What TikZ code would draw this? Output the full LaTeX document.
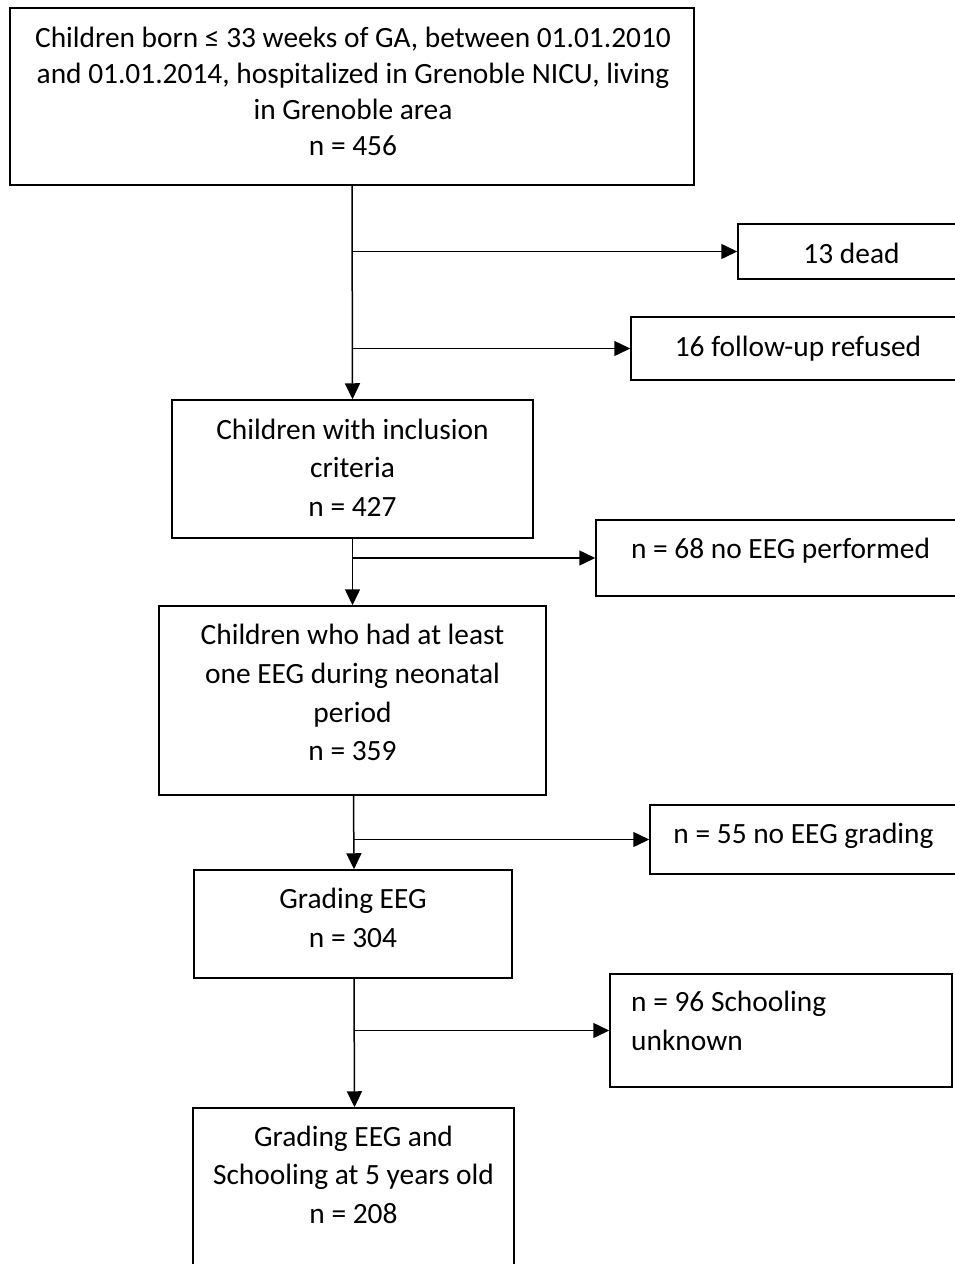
\documentclass[tikz,border=0pt]{standalone}
\usepackage{fontspec}
\setmainfont{Carlito}
\usetikzlibrary{arrows.meta}
\begin{document}
\begin{tikzpicture}[x=1pt,y=-1pt,
  box/.style={draw=black, line width=1.5pt, fill=white, rectangle, inner sep=0pt},
  txt/.style={inner sep=0pt, align=center, font=\fontsize{29.4}{38.7}\selectfont},
  arr/.style={draw=black, line width=1.5pt, -{Triangle[length=16pt,width=15pt]}}]
\useasboundingbox (0,0) rectangle (955,1264);
\clip (0,0) rectangle (955,1264);
% boxes
\node[box, minimum width=684pt, minimum height=177pt] (b1) at (352,96.5) {};
\node[box, minimum width=227pt, minimum height=55pt] (b2) at (851.5,251.5) {};
\node[box, minimum width=334pt, minimum height=63pt] (b3) at (798,348.5) {};
\node[box, minimum width=361pt, minimum height=138pt] (b4) at (352.5,469) {};
\node[box, minimum width=369pt, minimum height=76pt] (b5) at (780.5,558) {};
\node[box, minimum width=387pt, minimum height=189pt] (b6) at (352.5,700.5) {};
\node[box, minimum width=307pt, minimum height=69pt] (b7) at (803.5,839.5) {};
\node[box, minimum width=318pt, minimum height=108pt] (b8) at (353,924) {};
\node[box, minimum width=342pt, minimum height=113pt] (b9) at (781,1030.5) {};
\node[box, minimum width=321pt, minimum height=182pt] (b10) at (353.5,1199) {};
% texts
\node[txt, font=\fontsize{29.4}{36}\selectfont] (t1) at (353,94.3) {\strut Children born ≤ 33 weeks of GA, between 01.01.2010\\ \strut and 01.01.2014, hospitalized in Grenoble NICU, living\\ \strut in Grenoble area\\ \strut n = 456};
\node[txt] (t2) at (851.5,256) {\strut 13 dead};
\node[txt] (t3) at (798,349) {\strut 16 follow-up refused};
\node[txt] (t4) at (352.5,470) {\strut Children with inclusion\\ \strut criteria\\ \strut n = 427};
\node[txt] (t5) at (780.5,551) {\strut n = 68 no EEG performed};
\node[txt] (t6) at (352.5,695) {\strut Children who had at least\\ \strut one EEG during neonatal\\ \strut period\\ \strut n = 359};
\node[txt] (t7) at (803.5,836) {\strut n = 55 no EEG grading};
\node[txt] (t8) at (353,920.5) {\strut Grading EEG\\ \strut n = 304};
\node[txt, align=left, anchor=west] (t9) at (631,1023.5) {\strut n = 96 Schooling\\ \strut unknown};
\node[txt] (t10) at (353.5,1177) {\strut Grading EEG and\\ \strut Schooling at 5 years old\\ \strut n = 208};
% connectors
\draw[arr] (b1.south) -- (b4.north);
\draw[arr] (b1.south |- b2.west) -- (b2.west);
\draw[arr] (b1.south |- b3.west) -- (b3.west);
\draw[arr] (b4.south) -- (b6.north);
\draw[arr] (b4.south |- b5.west) -- (b5.west);
\draw[arr] ([xshift=1pt]b6.south) -- ([xshift=1pt]b8.north);
\draw[arr] ([xshift=1pt]b6.south |- b7.west) -- (b7.west);
\draw[arr] ([xshift=1pt]b8.south) -- ([xshift=1pt]b10.north);
\draw[arr] ([xshift=1pt]b8.south |- b9.west) -- (b9.west);
\end{tikzpicture}
\end{document}
